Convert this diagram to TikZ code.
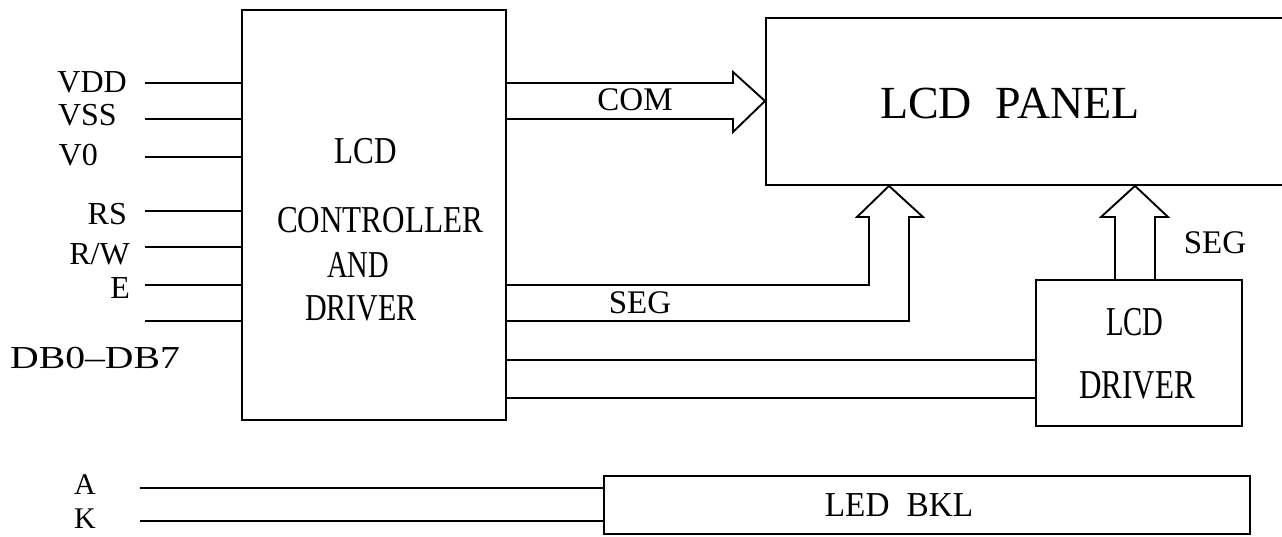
\documentclass[tikz,border=0pt]{standalone}
\usepackage{fontspec}
\setmainfont{Liberation Serif}
\usepackage{graphicx}
\begin{document}
\begin{tikzpicture}[x=1pt,y=-1pt,
  box/.style={draw,line width=1.9pt,rectangle,inner sep=0pt,anchor=north west},
  wire/.style={line width=1.9pt},
  pin/.style={inner sep=0pt,font=\fontsize{32}{32}\selectfont},
  lbl/.style={inner sep=0pt,anchor=base,font=\fontsize{33}{33}\selectfont},
  ctl/.style={inner sep=0pt,anchor=base,font=\fontsize{38}{38}\selectfont},
  drv/.style={inner sep=0pt,anchor=base,font=\fontsize{41}{41}\selectfont}]
\useasboundingbox (0,0) rectangle (1282,536);
\clip (0,0) rectangle (1282,536);
% boxes
\node[box,minimum width=264pt,minimum height=410pt] (ctrl) at (241,9) {};
\node[box,minimum width=540pt,minimum height=167pt] (panel) at (765,17) {};
\node[box,minimum width=206pt,minimum height=146pt] (drvbox) at (1035,279) {};
\node[box,minimum width=646pt,minimum height=58pt] (bkl) at (603,475) {};
% box texts
\node[ctl] (t1) at (366,163) {\scalebox{0.82}[1]{LCD}};
\node[ctl] (t2) at (380,232) {\scalebox{0.82}[1]{CONTROLLER}};
\node[ctl] (t3) at (358,277) {\scalebox{0.75}[1]{AND}};
\node[ctl] (t4) at (361,320) {\scalebox{0.79}[1]{DRIVER}};
\node[inner sep=0pt,anchor=base,font=\fontsize{46}{46}\selectfont] (tp) at (1010,118) {LCD\hspace{24pt}PANEL};
\node[drv] (d1) at (1135,335) {\scalebox{0.7}[1]{LCD}};
\node[drv] (d2) at (1137,398) {\scalebox{0.76}[1]{DRIVER}};
\node[inner sep=0pt,anchor=base,font=\fontsize{35}{35}\selectfont] (tb) at (899,516) {\scalebox{0.95}[1]{LED\hspace{18pt}BKL}};
% pin labels
\node[pin,anchor=base east] (lVDD) at (127,92) {VDD};
\node[pin,anchor=base east] (lVSS) at (117,125) {VSS};
\node[pin,anchor=base east] (lV0) at (98,165) {V0};
\node[pin,anchor=base east] (lRS) at (127,224) {RS};
\node[pin,anchor=base east] (lRW) at (130,264) {R/W};
\node[pin,anchor=base east] (lE) at (130,298) {E};
\node[pin,anchor=base west] (lDB) at (10,368) {\scalebox{1.24}[1]{DB0--DB7}};
\node[pin,anchor=base,font=\fontsize{30}{30}\selectfont] (lA) at (85,494) {A};
\node[pin,anchor=base,font=\fontsize{30}{30}\selectfont] (lK) at (85,528) {K};
% pin wires
\foreach \n/\y in {VDD/83,VSS/119,V0/157,RS/211,RW/247,E/285,DB/321}{
  \coordinate (p\n) at (145,\y);
  \draw[wire] (p\n) -- (p\n -| ctrl.west);
}
\coordinate (pA) at (140,488);
\coordinate (pK) at (140,521);
\draw[wire] (pA) -- (pA -| bkl.west);
\draw[wire] (pK) -- (pK -| bkl.west);
% COM hollow arrow
\coordinate (c1) at (733,83);
\coordinate (c2) at (733,119);
\coordinate (ctip) at (765,101);
\draw[wire,line join=miter] (c1 -| ctrl.east) -- (c1) -- (733,72) -- (ctip -| panel.west) -- (733,132) -- (c2) -- (c2 -| ctrl.east);
\node[lbl] (com) at (635,110) {COM};
% SEG arrow from controller
\coordinate (s1) at (869,285);
\coordinate (s2) at (909,321);
\coordinate (stip) at (889,184);
\draw[wire,line join=miter] (s1 -| ctrl.east) -- (s1) -- (869,217) -- (857,217) -- (stip |- panel.south) -- (923,217) -- (909,217) -- (s2) -- (s2 -| ctrl.east);
\node[lbl] (seg1) at (640,313) {SEG};
% lines to LCD driver
\coordinate (r1) at (505,360);
\coordinate (r2) at (505,398);
\draw[wire] (r1 -| ctrl.east) -- (r1 -| drvbox.west);
\draw[wire] (r2 -| ctrl.east) -- (r2 -| drvbox.west);
% SEG arrow from driver
\coordinate (u1) at (1115,279);
\coordinate (u2) at (1155,279);
\coordinate (utip) at (1135,184);
\draw[wire,line join=miter] (u1 |- drvbox.north) -- (1115,217) -- (1101,217) -- (utip |- panel.south) -- (1168,217) -- (1155,217) -- (u2 |- drvbox.north);
\node[lbl] (seg2) at (1215,253) {SEG};
\end{tikzpicture}
\end{document}
